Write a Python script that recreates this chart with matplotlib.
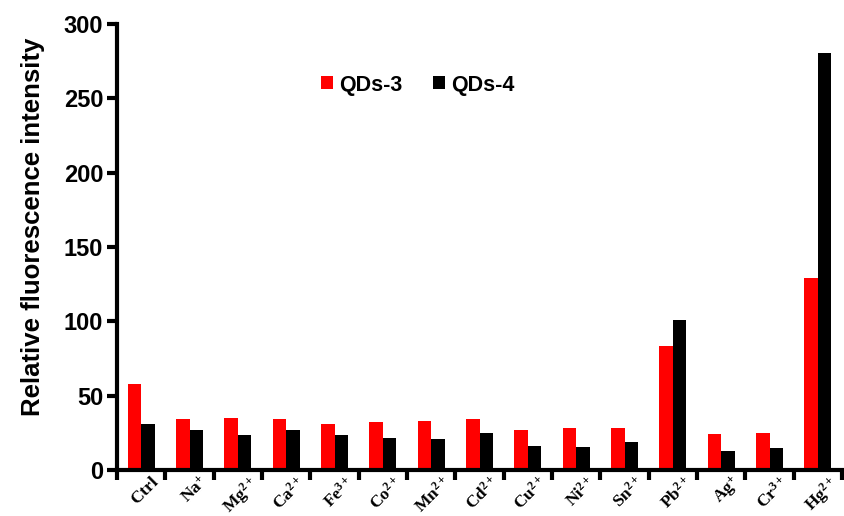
import numpy as np
import matplotlib
matplotlib.use('Agg')
import matplotlib.pyplot as plt

plt.rcParams['font.family'] = ['Liberation Sans', 'DejaVu Sans']
plt.rcParams['mathtext.fontset'] = 'custom'
plt.rcParams['mathtext.rm'] = 'Liberation Serif:bold'
plt.rcParams['mathtext.bf'] = 'Liberation Serif:bold'
plt.rcParams['mathtext.it'] = 'Liberation Serif:bold'

ions = ['Ctrl', 'Na^{+}', 'Mg^{2+}', 'Ca^{2+}', 'Fe^{3+}', 'Co^{2+}', 'Mn^{2+}', 'Cd^{2+}',
        'Cu^{2+}', 'Ni^{2+}', 'Sn^{2+}', 'Pb^{2+}', 'Ag^{+}', 'Cr^{3+}', 'Hg^{2+}']
qds3 = [58, 34.6, 34.8, 34.6, 31, 32, 33, 34.4, 27.2, 28.3, 28.3, 83.6, 24.3, 24.9, 129.5]
qds4 = [31, 26.8, 23.6, 27.2, 23.6, 21.3, 20.7, 24.7, 16.4, 15.5, 18.9, 101, 12.8, 15, 280.5]

fig = plt.figure(figsize=(8.45, 5.16), dpi=100)
ax = fig.add_axes([0.1385, 0.089, 0.858, 0.8645])

x = np.arange(len(ions))
w = 0.28
ax.bar(x - w / 2, qds3, w, color='#ff0000', label='QDs-3')
ax.bar(x + w / 2, qds4, w, color='black', label='QDs-4')

ax.set_xlim(-0.5, len(ions) - 0.5)
ax.set_ylim(0, 300)
ax.set_yticks(range(0, 301, 50))
ax.set_yticklabels([str(v) for v in range(0, 301, 50)], fontsize=17, fontweight='bold')

# ticks between groups, labels at group centres
ax.set_xticks(np.arange(len(ions) + 1) - 0.5)
ax.set_xticklabels([])
ax.set_xticks(x + 0.2, minor=True)
ax.set_xticklabels([r'$\mathbf{' + s + '}$' for s in ions], minor=True,
                   rotation=45, ha='right', va='top', rotation_mode='anchor', fontsize=12.5)
ax.tick_params(axis='x', which='minor', length=0, pad=2)
ax.tick_params(axis='x', which='major', direction='out', length=7, width=3)
ax.tick_params(axis='y', direction='out', length=7, width=3, pad=3)

for s in ['top', 'right']:
    ax.spines[s].set_visible(False)
for s in ['left', 'bottom']:
    ax.spines[s].set_linewidth(3)

ax.set_ylabel('Relative fluorescence intensity', fontsize=18.5, fontweight='bold')
ax.yaxis.set_label_coords(-0.1, 0.545)

leg = ax.legend(loc='upper left', bbox_to_anchor=(0.255, 0.93), ncol=2, frameon=False,
                prop={'size': 15.5, 'weight': 'bold'}, handlelength=0.55, handleheight=0.55,
                handletextpad=0.3, columnspacing=1.4)

fig.savefig('out.png', dpi=100)
